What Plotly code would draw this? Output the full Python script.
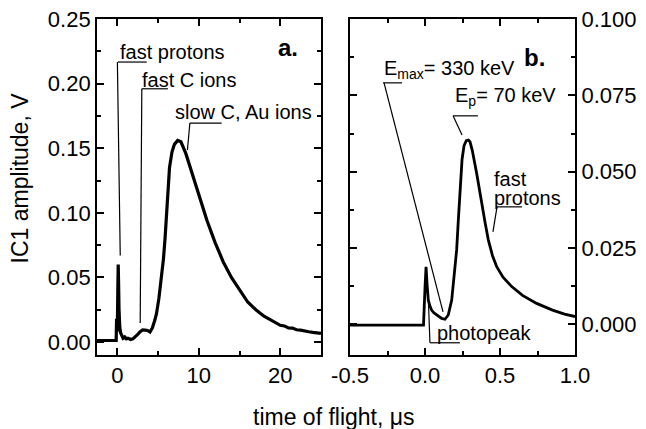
import plotly.graph_objects as go

# ---------------- data ----------------
# panel a: IC1 amplitude (V) vs time of flight (us), long time scale
time_a = [-2.5, -1.0, -0.3, -0.15, -0.1, -0.05, 0.0, 0.05, 0.1, 0.15, 0.2, 0.25, 0.3, 0.4, 0.5,
          0.7, 0.9, 1.1, 1.3, 1.6, 1.9, 2.2, 2.5, 2.8, 3.1, 3.4, 3.7, 4.0, 4.3, 4.6, 4.8,
          5.1, 5.4, 5.65, 5.85, 6.0, 6.2, 6.4, 6.7, 7.0, 7.4, 7.8, 8.4, 9.0, 10.0, 11.0,
          12.0, 13.0, 14.0, 15.0, 16.0, 17.0, 18.0, 18.6, 19.0, 19.5, 20.0, 20.5, 21.0,
          21.5, 22.0, 22.5, 23.0, 23.5, 24.0, 24.5, 25.0]
amp_a = [0.0012, 0.0012, 0.0012, 0.0012, 0.018, 0.008, 0.012, 0.04, 0.06, 0.045, 0.025, 0.015, 0.011, 0.007, 0.006,
         0.003, 0.004, 0.0025, 0.003, 0.002, 0.0025, 0.004, 0.006, 0.008, 0.0095, 0.0093, 0.009, 0.0078, 0.011, 0.017, 0.022,
         0.034, 0.048, 0.064, 0.08, 0.097, 0.117, 0.135, 0.147, 0.153, 0.156, 0.155, 0.146, 0.134, 0.113, 0.094,
         0.077, 0.062, 0.050, 0.040, 0.031, 0.025, 0.020, 0.018, 0.0165, 0.015, 0.013, 0.0125, 0.011,
         0.0108, 0.0095, 0.0092, 0.0083, 0.008, 0.0075, 0.0072, 0.0068]

# panel b: short time scale
time_b = [-0.5, -0.2, -0.01, 0.0, 0.007, 0.014, 0.022, 0.033, 0.044, 0.06, 0.078, 0.095, 0.111, 0.133,
          0.155, 0.178, 0.19, 0.2, 0.211, 0.222, 0.235, 0.247, 0.26, 0.275, 0.289, 0.3, 0.315, 0.33,
          0.344, 0.36, 0.378, 0.4, 0.422, 0.45, 0.478, 0.52, 0.578, 0.65, 0.744, 0.85, 0.93, 1.0]
amp_b = [-0.0002, -0.0002, -0.0002, 0.012, 0.0189, 0.013, 0.008, 0.006, 0.0047, 0.0038, 0.0031, 0.0025, 0.002, 0.0017,
         0.0031, 0.008, 0.0135, 0.0178, 0.0244, 0.034, 0.046, 0.054, 0.0585, 0.0602, 0.0604, 0.0598, 0.057, 0.0535,
         0.0496, 0.045, 0.0395, 0.0335, 0.0277, 0.0225, 0.0189, 0.0155, 0.0124, 0.0095, 0.0069, 0.0047, 0.0034, 0.0026]

# tick labels
xa_ticks = [0, 10, 20]
xa_text = ["0", "10", "20"]
ya_ticks = [0.0, 0.05, 0.10, 0.15, 0.20, 0.25]
ya_text = ["0.00", "0.05", "0.10", "0.15", "0.20", "0.25"]
xb_ticks = [-0.5, 0.0, 0.5, 1.0]
xb_text = ["-0.5", "0.0", "0.5", "1.0"]
yb_ticks = [0.0, 0.025, 0.05, 0.075, 0.1]
yb_text = ["0.000", "0.025", "0.050", "0.075", "0.100"]

# annotation labels
labels_a = ["fast protons", "fast C ions", "slow C, Au ions"]
labels_b = ["E<sub>max</sub>= 330 keV", "E<sub>p</sub>= 70 keV", "fast", "protons", "photopeak"]

FONT = "Liberation Sans, Arial, sans-serif"

fig = go.Figure()
fig.add_trace(go.Scatter(x=time_a, y=amp_a, mode="lines", line=dict(color="black", width=3.2),
                         xaxis="x", yaxis="y", showlegend=False))
fig.add_trace(go.Scatter(x=time_b, y=amp_b, mode="lines", line=dict(color="black", width=2.8),
                         xaxis="x2", yaxis="y2", showlegend=False))

axis_common = dict(showline=True, linecolor="black", linewidth=2, mirror="ticks",
                   ticks="inside", ticklen=7, tickwidth=1.5, tickcolor="black",
                   showgrid=False, zeroline=False, automargin=False,
                   tickfont=dict(family=FONT, size=22, color="black"))

fig.update_layout(
    width=646, height=429, autosize=False,
    margin=dict(l=0, r=0, t=0, b=0),
    paper_bgcolor="white", plot_bgcolor="white",
    font=dict(family=FONT, color="black"),
    xaxis=dict(domain=[0.1502, 0.4969], range=[-2.5, 25], tickvals=xa_ticks, ticktext=xa_text,
               minor=dict(dtick=5, tick0=0, ticks="inside", ticklen=4, tickwidth=1.5, tickcolor="black"),
               anchor="y", **axis_common),
    yaxis=dict(domain=[0.1725, 0.9557], range=[-0.01, 0.25], tickvals=ya_ticks, ticktext=ya_text,
               minor=dict(dtick=0.025, tick0=0, ticks="inside", ticklen=4, tickwidth=1.5, tickcolor="black"),
               anchor="x", **axis_common),
    xaxis2=dict(domain=[0.5418, 0.8901], range=[-0.5, 1.0], tickvals=xb_ticks, ticktext=xb_text,
                minor=dict(dtick=0.25, tick0=0, ticks="inside", ticklen=4, tickwidth=1.5, tickcolor="black"),
                anchor="y2", **axis_common),
    yaxis2=dict(domain=[0.1725, 0.9557], range=[-0.01, 0.1], tickvals=yb_ticks, ticktext=yb_text,
                minor=dict(dtick=0.0125, tick0=0, ticks="inside", ticklen=4, tickwidth=1.5, tickcolor="black"),
                side="right", anchor="x2", **axis_common),
)

ann_font = dict(family=FONT, size=20, color="black")
annotations = [
    # panel a labels
    dict(x=0.05, y=0.2245, xref="x", yref="y", text=labels_a[0]),
    dict(x=2.75, y=0.203, xref="x", yref="y", text=labels_a[1]),
    dict(x=6.8, y=0.178, xref="x", yref="y", text=labels_a[2]),
    # panel b labels
    dict(x=-0.285, y=0.0835, xref="x2", yref="y2", text=labels_b[0]),
    dict(x=0.185, y=0.0745, xref="x2", yref="y2", text=labels_b[1]),
    dict(x=0.445, y=0.0477, xref="x2", yref="y2", text=labels_b[2]),
    dict(x=0.445, y=0.0415, xref="x2", yref="y2", text=labels_b[3]),
    dict(x=0.065, y=-0.0028, xref="x2", yref="y2", text=labels_b[4]),
]
for a in annotations:
    a.update(showarrow=False, xanchor="left", yanchor="middle", font=ann_font)
annotations += [
    dict(x=21.0, y=0.2276, xref="x", yref="y", text="<b>a.</b>", showarrow=False,
         font=dict(family=FONT, size=24, color="black")),
    dict(x=0.733, y=0.0873, xref="x2", yref="y2", text="<b>b.</b>", showarrow=False,
         font=dict(family=FONT, size=24, color="black")),
    # axis titles
    dict(x=20 / 646, y=1 - 178.5 / 429, xref="paper", yref="paper", text="IC1 amplitude, V",
         textangle=-90, showarrow=False, xanchor="center", yanchor="middle",
         font=dict(family=FONT, size=23, color="black")),
    dict(x=333.5 / 646, y=1 - 417 / 429, xref="paper", yref="paper", text="time of flight, \u03bcs",
         showarrow=False, xanchor="center", yanchor="middle",
         font=dict(family=FONT, size=23, color="black")),
]
fig.update_layout(annotations=annotations)

# leader lines (label pointers)
leaders_a = [
    [(0.07, 0.2167), (3.6, 0.2167)], [(0.0, 0.2167), (0.35, 0.067)],
    [(3.0, 0.196), (6.2, 0.196)], [(3.0, 0.196), (2.8, 0.0147)],
    [(8.9, 0.1695), (12.8, 0.1695)], [(8.9, 0.1695), (8.6, 0.1486)],
]
leaders_b = [
    [(-0.28, 0.0791), (-0.153, 0.0791)], [(-0.273, 0.0791), (0.12, 0.0041)],
    [(0.187, 0.0683), (0.353, 0.0683)], [(0.187, 0.0683), (0.247, 0.062)],
    [(0.48, 0.0385), (0.647, 0.0385)], [(0.48, 0.0385), (0.453, 0.0303)],
    [(0.033, -0.006), (0.233, -0.006)], [(0.033, -0.006), (0.02, 0.0113)],
]
shapes = []
for seg in leaders_a:
    (x0, y0), (x1, y1) = seg
    shapes.append(dict(type="line", xref="x", yref="y", x0=x0, y0=y0, x1=x1, y1=y1,
                       line=dict(color="black", width=1.2)))
for seg in leaders_b:
    (x0, y0), (x1, y1) = seg
    shapes.append(dict(type="line", xref="x2", yref="y2", x0=x0, y0=y0, x1=x1, y1=y1,
                       line=dict(color="black", width=1.2)))
fig.update_layout(shapes=shapes)

fig.write_html("out.html")
